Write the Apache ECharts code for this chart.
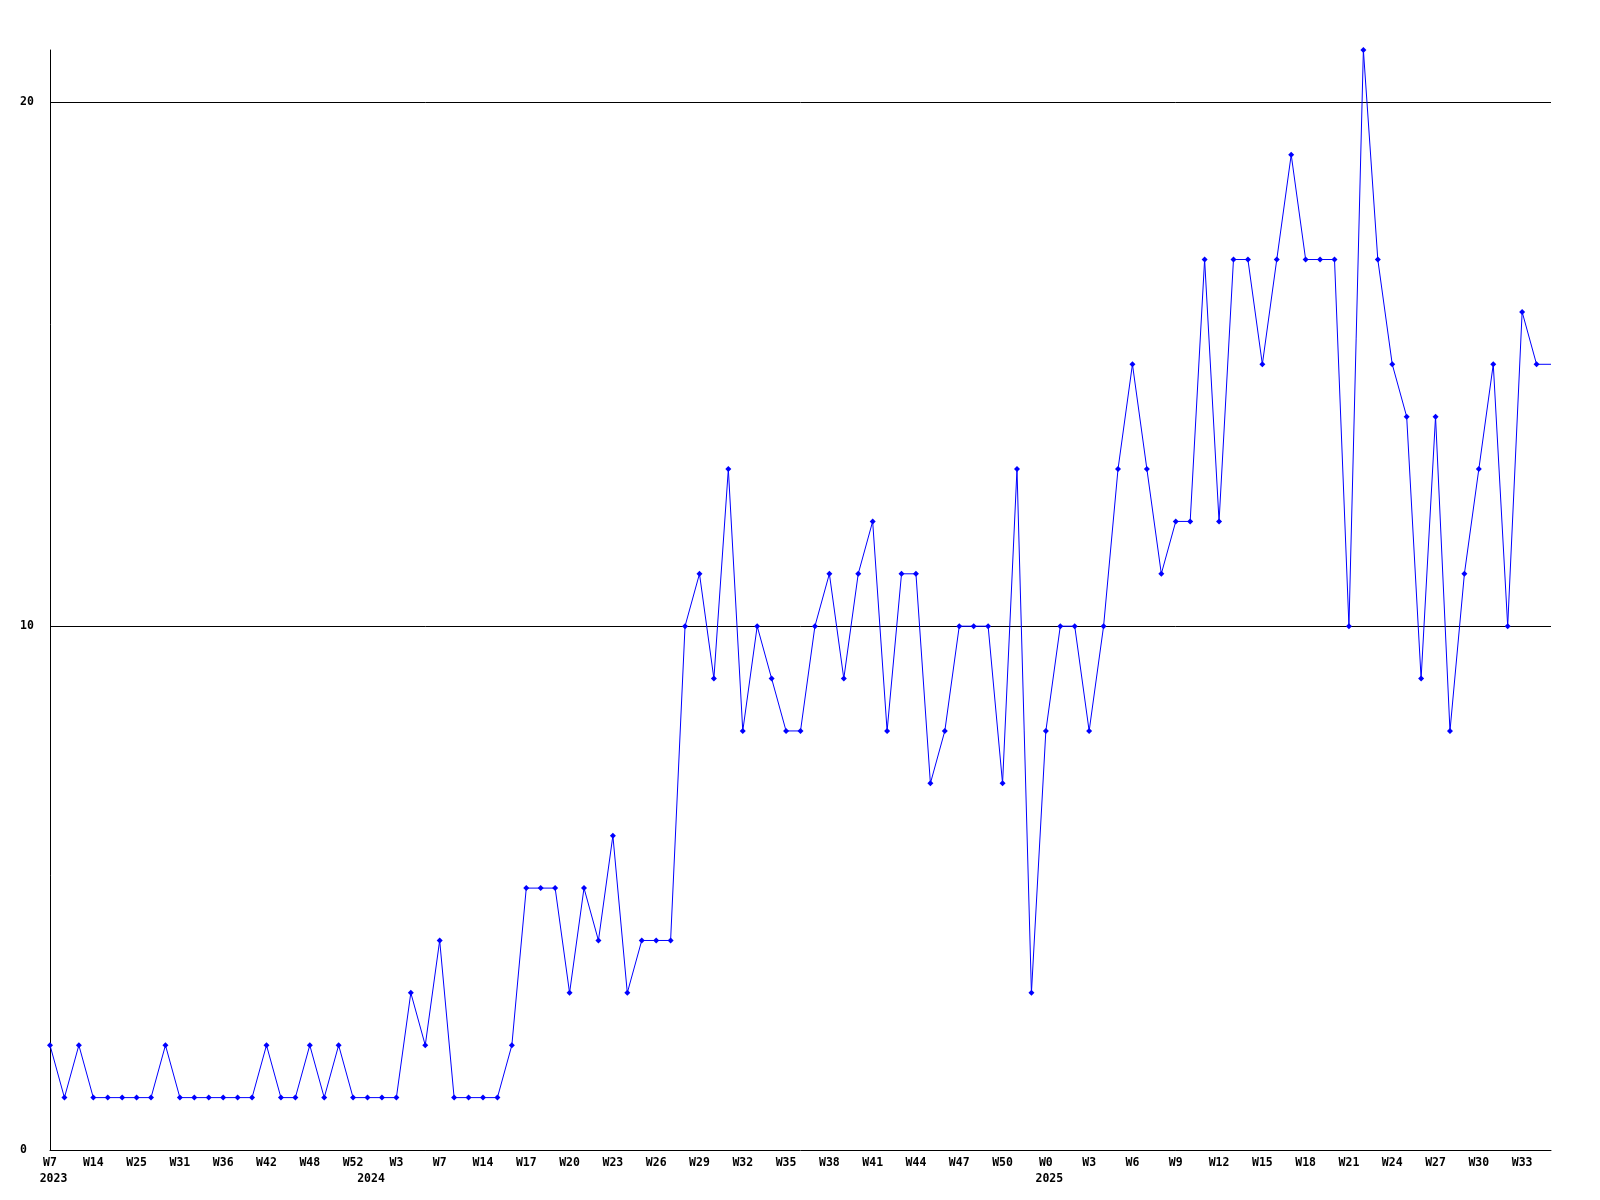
<!DOCTYPE html>
<html>
<head>
<meta charset="utf-8">
<script src="https://cdn.jsdelivr.net/npm/echarts@6/dist/echarts.min.js"></script>
<style>
html,body{margin:0;padding:0;background:#fff;}
#chart{width:1600px;height:1200px;}
</style>
</head>
<body>
<div id="chart"></div>
<script>
// week categories (every third one is labelled on the axis)
const weeks = [
  'W7','W9','W11','W14','W18','W21','W25','W27','W29','W31','W33','W34','W36','W38','W40','W42','W44','W46','W48','W49','W51','W52','W1','W2',
  'W3','W4','W5','W7','W10','W12','W14','W15','W16','W17','W18','W19','W20','W21','W22','W23','W24','W25','W26','W27','W28','W29','W30','W31','W32','W33','W34','W35','W36','W37','W38','W39','W40','W41','W42','W43','W44','W45','W46','W47','W48','W49','W50','W51','W52',
  'W0','W1','W2','W3','W4','W5','W6','W7','W8','W9','W10','W11','W12','W13','W14','W15','W16','W17','W18','W19','W20','W21','W22','W23','W24','W25','W26','W27','W28','W29','W30','W31','W32','W33','W34','W35'
];
// year shown under the first week of each year
const yearMarks = {0: '2023', 22: '2024', 69: '2025'};

const values = [
  2,1,2,1,1,1,1,1,2,1,1,1,1,1,1,2,1,1,2,1,2,1,1,1,
  1,3,2,4,1,1,1,1,2,5,5,5,3,5,4,6,3,4,4,4,10,11,9,13,8,10,9,8,8,10,11,9,11,12,8,11,11,7,8,10,10,10,7,13,3,
  8,10,10,8,10,13,15,13,11,12,12,17,12,17,17,15,17,19,17,17,17,10,21,17,15,14,9,14,8,11,13,15,10,16,15,15
];

const yTicks = [0, 10, 20];

const chart = echarts.init(document.getElementById('chart'), null, {renderer: 'canvas'});
const font = 'DejaVu Sans Mono';
const txt = {fontFamily: font, fontWeight: 'bold', fontSize: 11.5, color: '#000'};

chart.setOption({
  animation: false,
  backgroundColor: '#ffffff',
  grid: {left: 50, right: 49, top: 50, bottom: 50, containLabel: false},
  xAxis: [{
    type: 'category',
    data: weeks,
    boundaryGap: false,
    axisLine: {show: true, onZero: false, lineStyle: {color: '#000', width: 1}},
    axisTick: {show: false},
    splitLine: {show: false},
    axisLabel: Object.assign({interval: 2, margin: 6.5, lineHeight: 14}, txt)
  }, {
    type: 'category',
    data: weeks,
    position: 'bottom',
    boundaryGap: false,
    axisLine: {show: false},
    axisTick: {show: false},
    splitLine: {show: false},
    axisLabel: {
      interval: 0,
      margin: 22.5,
      formatter: function (val, idx) { return yearMarks[idx] || ''; },
      rich: {},
      fontFamily: font, fontWeight: 'bold', fontSize: 11.5, color: '#000', lineHeight: 14,
      padding: [0, 0, 0, 7]
    }
  }],
  yAxis: {
    type: 'value',
    min: 0,
    max: 21,
    interval: 10,
    axisLine: {show: true, lineStyle: {color: '#000', width: 1}},
    axisTick: {show: false},
    splitLine: {show: true, showMinLine: false, showMaxLine: false, lineStyle: {color: '#000', width: 1}},
    axisLabel: Object.assign({
      showMaxLabel: false,
      align: 'left',
      margin: 30,
      formatter: function (v) { return yTicks.indexOf(v) >= 0 ? String(v) : ''; }
    }, txt)
  },
  series: [{
    type: 'line',
    data: values.map(function (v, i) { return i === values.length - 1 ? {value: v, symbol: 'none'} : v; }),
    symbol: 'diamond',
    symbolSize: 6,
    showAllSymbol: true,
    itemStyle: {color: '#0000ff'},
    lineStyle: {color: '#0000ff', width: 1},
    clip: false
  }]
});
</script>
</body>
</html>
